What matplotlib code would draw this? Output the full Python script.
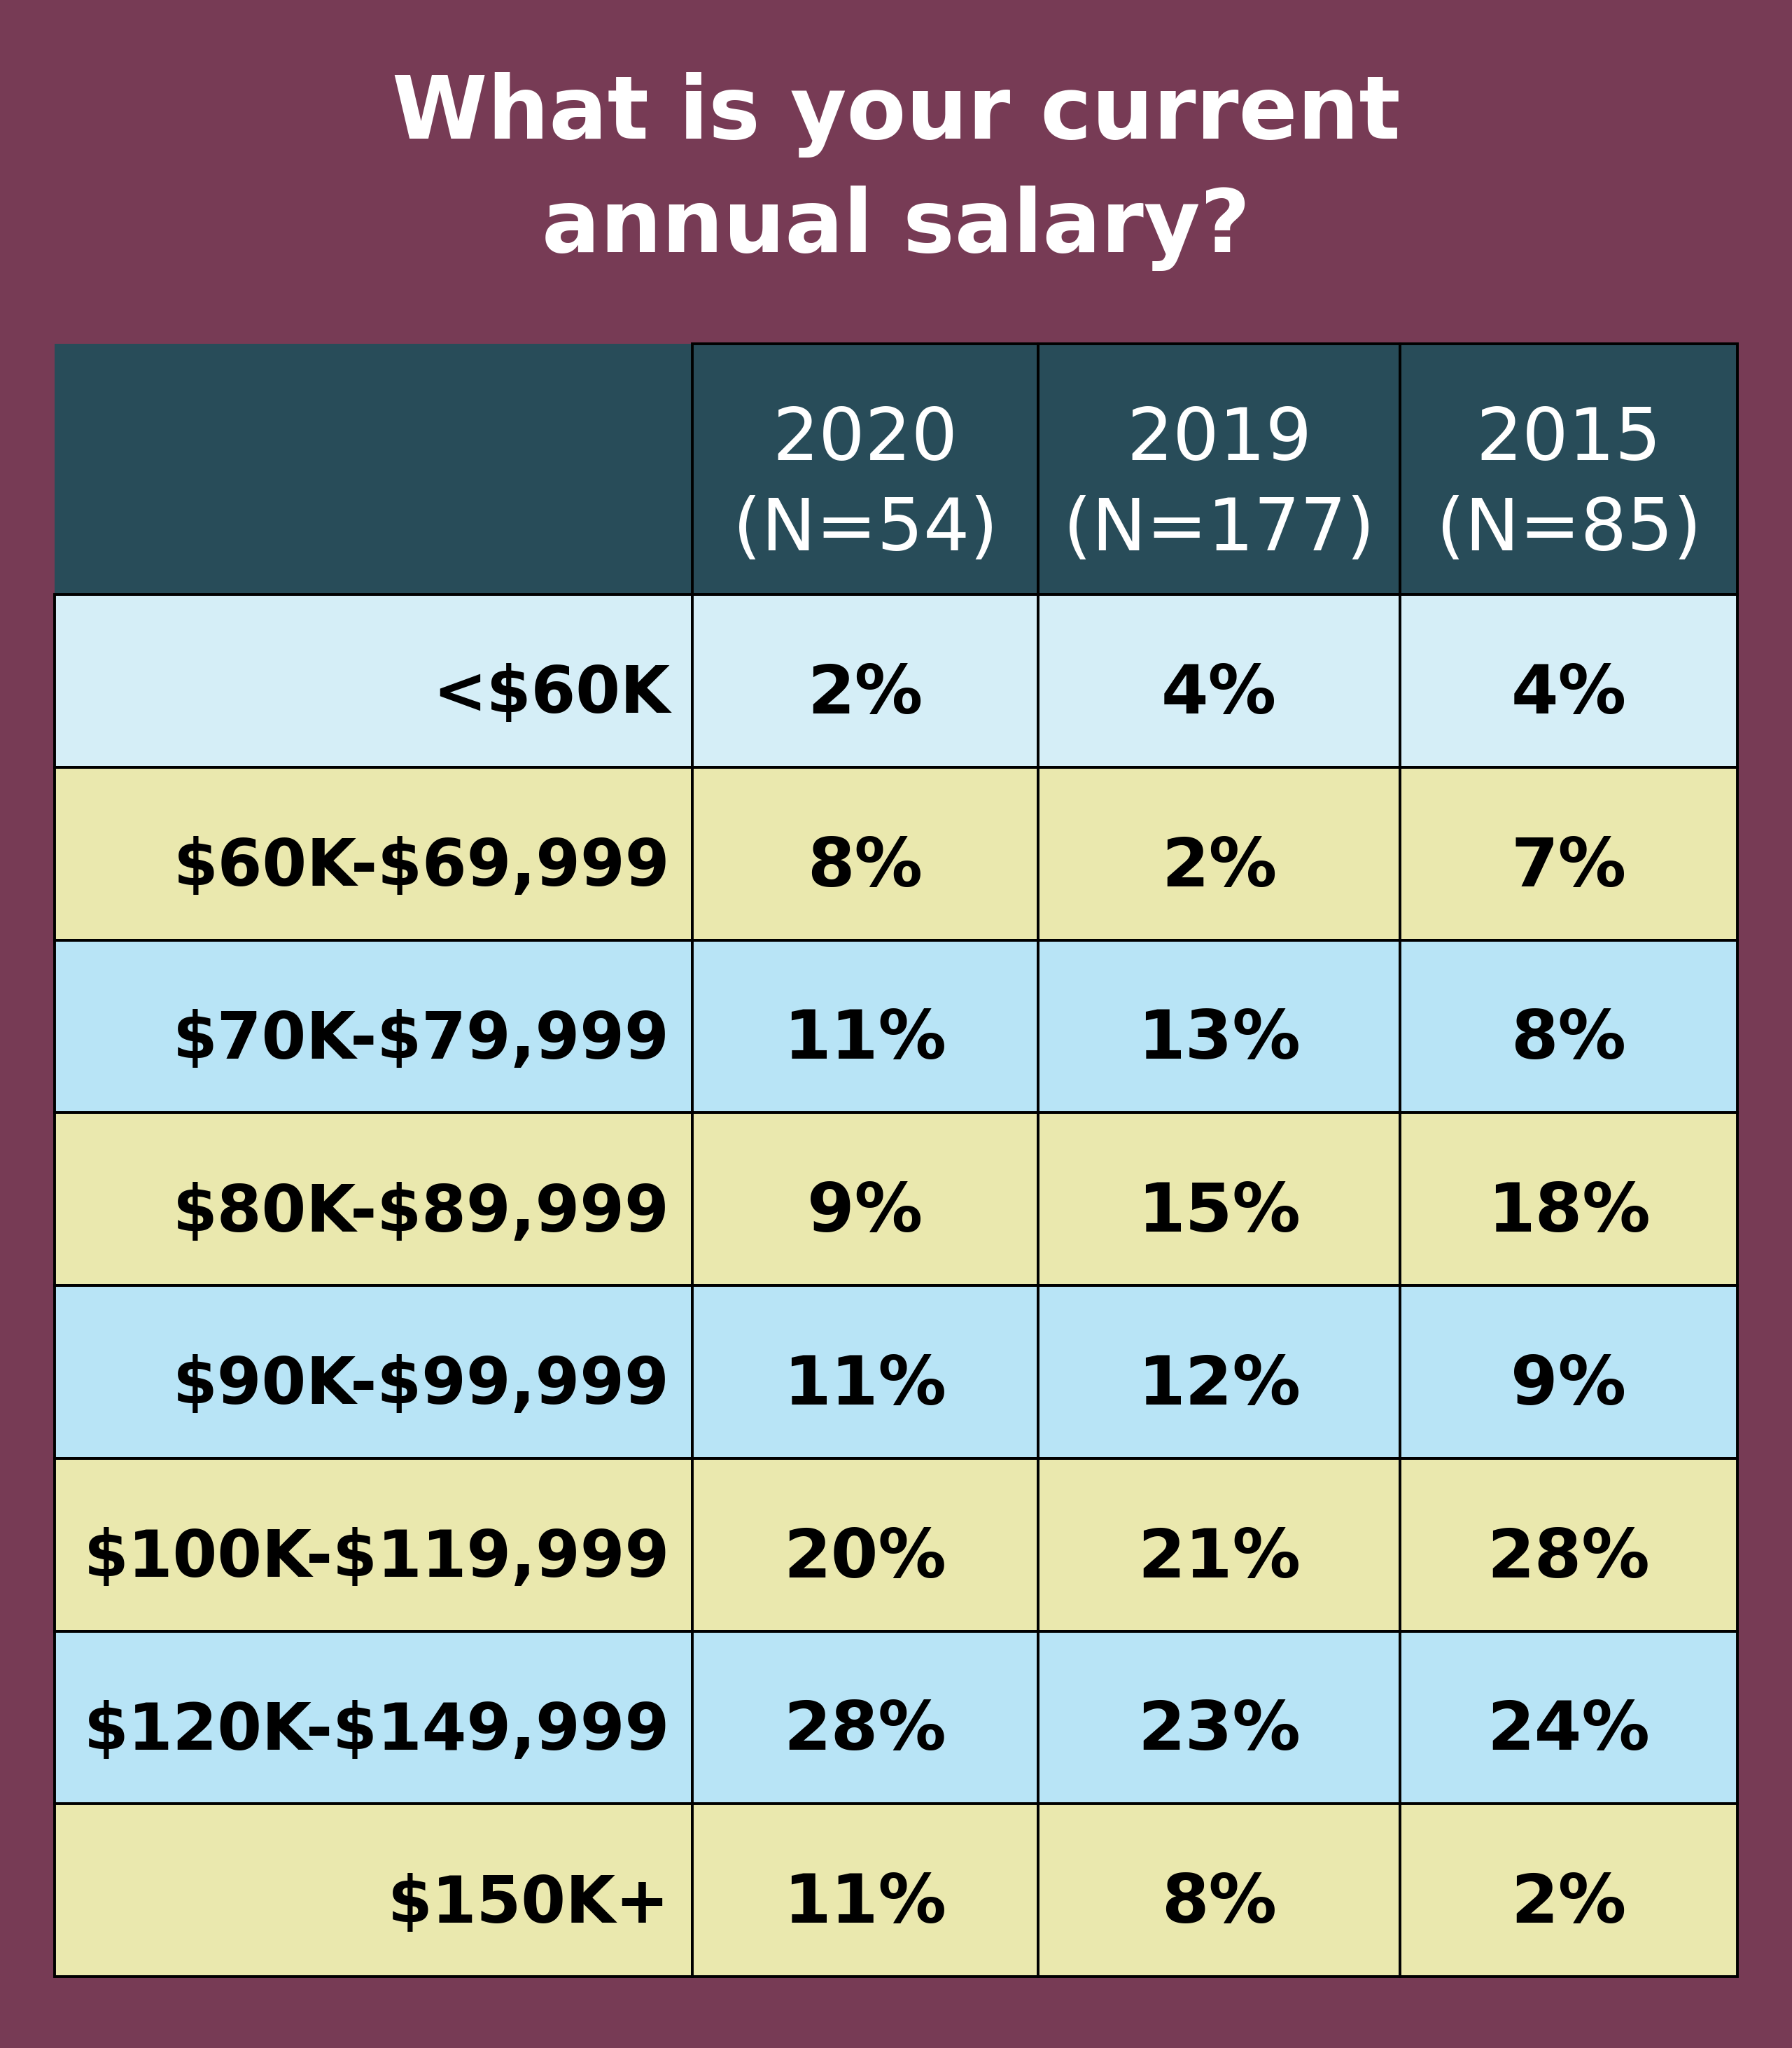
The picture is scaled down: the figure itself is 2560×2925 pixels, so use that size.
import matplotlib.pyplot as plt
from matplotlib.patches import Rectangle

# data
title = "What is your current\nannual salary?"
years = ["2020", "2019", "2015"]
sample_sizes = [54, 177, 85]
salary_bands = ["<$60K", "$60K-$69,999", "$70K-$79,999", "$80K-$89,999",
                "$90K-$99,999", "$100K-$119,999", "$120K-$149,999", "$150K+"]
pct_2020 = [2, 8, 11, 9, 11, 20, 28, 11]
pct_2019 = [4, 2, 13, 15, 12, 21, 23, 8]
pct_2015 = [4, 7, 8, 18, 9, 28, 24, 2]

# colours
bg = "#773B55"
header_bg = "#284C59"
row_colors = ["#EAE8AE", "#B8E4F6"]
first_row = "#D5EEF7"

W, H = 2560, 2925
fig = plt.figure(figsize=(W / 100, H / 100), dpi=100, facecolor=bg)
ax = fig.add_axes([0, 0, 1, 1])
ax.set_xlim(0, W)
ax.set_ylim(H, 0)
ax.axis("off")

font = "DejaVu Sans"
col_edges = [78, 989, 1483, 2000, 2482]
head_top, head_bot, tab_bot = 491, 849, 2823
row_h = (tab_bot - head_bot) / len(salary_bands)
lw = 2.8

ax.text(W / 2, 245, title, ha="center", va="center", color="white",
        fontsize=89, fontweight="bold", family=font, linespacing=1.42)

# header
ax.add_patch(Rectangle((col_edges[0], head_top), col_edges[-1] - col_edges[0],
                       head_bot - head_top, facecolor=header_bg, edgecolor="none"))
for i, (yr, n) in enumerate(zip(years, sample_sizes)):
    x0, x1 = col_edges[i + 1], col_edges[i + 2]
    ax.add_patch(Rectangle((x0, head_top), x1 - x0, head_bot - head_top,
                           facecolor="none", edgecolor="black", lw=lw))
    ax.text((x0 + x1) / 2, (head_top + head_bot) / 2 + 23, f"{yr}\n(N={n})",
            ha="center", va="center", color="white", fontsize=75,
            family=font, linespacing=1.35)

# body
cols = [pct_2020, pct_2019, pct_2015]
for r, band in enumerate(salary_bands):
    y0 = head_bot + r * row_h
    fc = first_row if r == 0 else row_colors[r % 2 == 0]
    for c in range(len(col_edges) - 1):
        x0, x1 = col_edges[c], col_edges[c + 1]
        ax.add_patch(Rectangle((x0, y0), x1 - x0, row_h, facecolor=fc,
                               edgecolor="black", lw=lw))
    yc = y0 + row_h / 2 + 20
    ax.text(col_edges[1] - 32, yc, band, ha="right", va="center",
            fontsize=66, fontweight="bold", family=font, color="black",
            parse_math=False)
    for c, vals in enumerate(cols):
        xc = (col_edges[c + 1] + col_edges[c + 2]) / 2
        ax.text(xc, yc, f"{vals[r]}%", ha="center", va="center",
                fontsize=70, fontweight="bold", family=font, color="black")

fig.savefig("out.png", dpi=100, facecolor=bg)
